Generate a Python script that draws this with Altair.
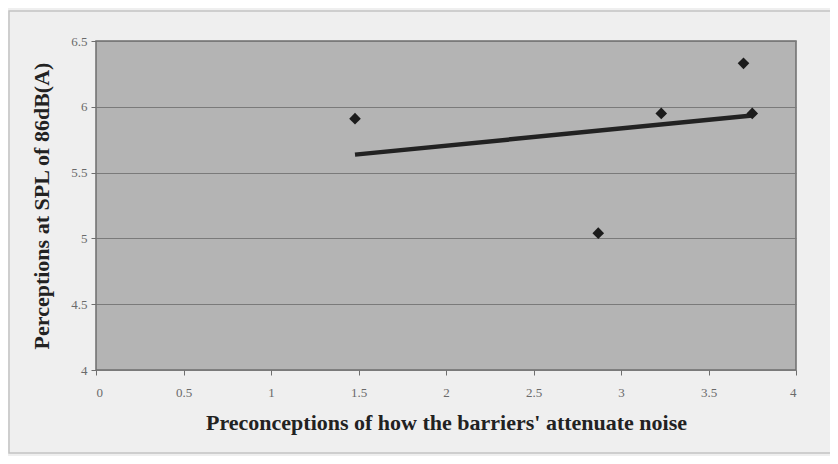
import altair as alt
import pandas as pd

# Data
preconceptions = [1.48, 2.87, 3.23, 3.70, 3.75]
perceptions = [5.91, 5.04, 5.95, 6.33, 5.95]

x_ticks = [0, 0.5, 1, 1.5, 2, 2.5, 3, 3.5, 4]
y_ticks = [4, 4.5, 5, 5.5, 6, 6.5]

x_title = "Preconceptions of how the barriers' attenuate noise"
y_title = "Perceptions at SPL of 86dB(A)"

df = pd.DataFrame({"x": preconceptions, "y": perceptions})
frame_df = pd.DataFrame({"a": [0]})

FONT = "Liberation Serif"

x_enc = alt.X(
    "x:Q",
    scale=alt.Scale(domain=[0, 4], nice=False),
    axis=alt.Axis(
        values=x_ticks,
        title=x_title,
        format="~g",
        grid=False,
        tickSize=5,
        labelPadding=11,
        titlePadding=13,
    ),
)
y_enc = alt.Y(
    "y:Q",
    scale=alt.Scale(domain=[4, 6.5], nice=False, zero=False),
    axis=alt.Axis(
        values=y_ticks,
        title=y_title,
        format="~g",
        grid=True,
        tickSize=5,
        labelPadding=4,
        titlePadding=17,
    ),
)

frame = alt.Chart(frame_df).mark_rect(
    fill=None, stroke="#c4c4c4", strokeWidth=1.5
).encode(
    x=alt.value(-87), x2=alt.value(760), y=alt.value(-30), y2=alt.value(412)
)

points = alt.Chart(df).mark_point(
    shape="diamond", filled=True, color="#1c1c1c", size=135, opacity=1
).encode(x=x_enc, y=y_enc)

trend = alt.Chart(df).transform_regression("x", "y").mark_line(
    color="#222222", strokeWidth=4.5
).encode(x="x:Q", y="y:Q")

chart = alt.layer(frame, trend, points).properties(
    width=700,
    height=329,
    autosize=alt.AutoSizeParams(type="none"),
    padding={"left": 88, "top": 33, "right": 34, "bottom": 86},
    background="#efefef",
).configure_view(
    fill="#b4b4b4", stroke="#6e6e6e", strokeWidth=1.5
).configure_axis(
    domain=False,
    gridColor="#7a7a7a",
    gridWidth=1,
    tickColor="#6e6e6e",
    labelFont=FONT,
    labelFontSize=13,
    labelColor="#6a6a6a",
    titleFont=FONT,
    titleFontSize=22,
    titleFontWeight="bold",
    titleColor="#222222",
)

chart.save("out.html", embed_options={"renderer": "svg", "actions": False})
